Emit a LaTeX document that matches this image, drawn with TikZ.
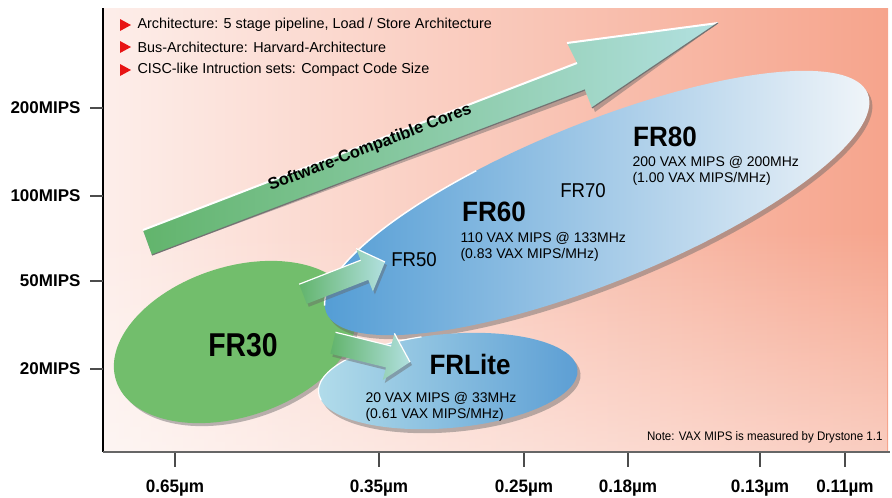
\documentclass[tikz,border=0pt]{standalone}
\usepackage{fontspec}
\setmainfont{Liberation Sans}
\newfontfamily\condf[FakeStretch=0.86]{Liberation Sans}
\newfontfamily\narf[FakeStretch=0.93]{Liberation Sans}
\newfontfamily\axf[FakeStretch=0.95]{Liberation Sans}
\usetikzlibrary{fadings}
\definecolor{bgL}{RGB}{253,238,234}
\definecolor{bgR}{RGB}{246,164,140}
\definecolor{grn}{RGB}{114,190,108}
\definecolor{blA}{RGB}{80,155,212}
\definecolor{blB}{RGB}{160,210,230}
\definecolor{blC}{RGB}{244,247,250}
\definecolor{liteL}{RGB}{178,220,234}
\definecolor{liteR}{RGB}{92,158,212}
\definecolor{arrL}{RGB}{98,180,108}
\definecolor{arrR}{RGB}{178,224,224}
\definecolor{bulred}{RGB}{232,20,20}
\begin{document}
\begin{tikzpicture}[x=1pt,y=-1pt,
  ylab/.style={anchor=east,font=\bfseries\fontsize{17}{17}\selectfont},
  xlab/.style={font=\axf\bfseries\fontsize{18}{18}\selectfont},
  tickln/.style={line width=1.6pt,black!70},
  bul/.style={anchor=west,font=\fontsize{14.4}{15}\selectfont},
  bigname/.style={font=\narf\bfseries\fontsize{28}{28}\selectfont},
  smallname/.style={font=\narf\fontsize{20}{20}\selectfont},
  spec/.style={anchor=west,align=left,font=\fontsize{14}{16}\selectfont},
  shadowsty/.style={fill=black!60,opacity=0.45}]
\useasboundingbox (0,0) rectangle (892,498);
% background
\shade[left color=bgL,right color=bgR] (103,8) rectangle (888,452);
\fill[white,path fading=north,opacity=0.45] (103,230) rectangle (888,452);
% axes
\draw[black,line width=1.2pt] (103,8) -- (103,452);
\draw[black!60,line width=2.6pt] (103,452) -- (890,452);
% y ticks
\foreach \yy/\lab in {108/200MIPS,196/100MIPS,281/50MIPS,369/20MIPS}{
  \draw[tickln] (90,\yy) -- (103,\yy);
  \node[ylab] at (84,\yy) {\lab};
}
% x ticks
\foreach \xx/\lab in {175/0.65,379/0.35,524/0.25,628/0.18,760/0.13,845/0.11}{
  \draw[tickln] (\xx,453) -- (\xx,467);
  \node[xlab] at (\xx,488) {\lab µm};
}
% bullets
\foreach \yy/\txt in {25/{Architecture: 5 stage pipeline, Load / Store Architecture},47/{Bus-Architecture: Harvard-Architecture},70/{CISC-like Intruction sets: Compact Code Size}}{
  \fill[bulred] (120,\yy-6) -- (131,\yy) -- (120,\yy+6) -- cycle;
  \node[bul] at (134,\yy) {\txt};
}
% big arrow
\coordinate (ta) at (143,230);
\coordinate (tb) at (152,255);
\coordinate (tip) at (718,23);
\fill[shadowsty,xshift=3pt,yshift=-4pt] (ta) -- (577,63) -- (567,43) -- (tip) -- (592,108) -- (585,90) -- (tb) -- cycle;
\shade[left color=arrL,right color=arrR] (ta) -- (577,63) -- (567,43) -- (tip) -- (592,108) -- (585,90) -- (tb) -- cycle;
\draw[white,line width=2pt] (ta) -- (577,63) (567,43) -- (tip);
\draw[black!55,line width=1.2pt] (tb) -- (585,90) (592,108) -- (tip);
\node[rotate=21,inner sep=0pt,font=\bfseries\fontsize{16.5}{16.5}\selectfont] (swc) at (370,148) {Software-Compatible Cores};
% FR30 ellipse
\fill[shadowsty,rotate around={18:(238,345)}] (238,345) ellipse [x radius=125pt,y radius=75pt];
\fill[grn,rotate around={18:(235,342)}] (235,342) ellipse [x radius=125pt,y radius=75pt];
% FR60 ellipse
\fill[shadowsty,rotate around={22:(600,207)}] (600,207) ellipse [x radius=292pt,y radius=80pt];
\shade[left color=blA,middle color=blB,right color=blC,rotate around={22:(597,203)}] (597,203) ellipse [x radius=292pt,y radius=80pt];
\draw[white,line width=1.5pt,rotate around={22:(597,203)}] (597,203) ++(110:292pt and 80pt) arc [start angle=110,end angle=175,x radius=292pt,y radius=80pt];
% arrow FR30 -> FR50
\fill[shadowsty,xshift=2pt,yshift=-3pt] (299.2,284.2) -- (360.7,260.2) -- (356.1,248.6) -- (385,262) -- (372.9,291.4) -- (368.3,279.8) -- (306.8,303.8) -- cycle;
\shade[left color=arrL,right color=arrR] (299.2,284.2) -- (360.7,260.2) -- (356.1,248.6) -- (385,262) -- (372.9,291.4) -- (368.3,279.8) -- (306.8,303.8) -- cycle;
\draw[white,line width=1.2pt] (299.2,284.2) -- (360.7,260.2) (356.1,248.6) -- (385,262);
% FRLite ellipse
\fill[shadowsty,rotate around={5:(451,385)}] (451,385) ellipse [x radius=130pt,y radius=47pt];
\shade[left color=liteL,right color=liteR,rotate around={5:(448,381)}] (448,381) ellipse [x radius=130pt,y radius=47pt];
\draw[white,line width=1.2pt,rotate around={5:(448,381)}] (448,381) ++(100:130pt and 47pt) arc [start angle=100,end angle=190,x radius=130pt,y radius=47pt];
% arrow FR30 -> FRLite
\fill[shadowsty,xshift=2pt,yshift=-3pt] (335.6,332.3) -- (391.2,346.0) -- (394.4,333.4) -- (410,362) -- (382.8,380) -- (386,367.4) -- (330.4,353.7) -- cycle;
\shade[left color=arrL,right color=arrR] (335.6,332.3) -- (391.2,346.0) -- (394.4,333.4) -- (410,362) -- (382.8,380) -- (386,367.4) -- (330.4,353.7) -- cycle;
\draw[white,line width=1.2pt] (335.6,332.3) -- (391.2,346.0) (394.4,333.4) -- (410,362);
% labels
\node[font=\condf\bfseries\fontsize{33}{33}\selectfont] (fr30) at (243,345) {FR30};
\node[smallname] (fr50) at (414,260) {FR50};
\node[smallname] (fr70) at (583,191) {FR70};
\node[bigname] (fr60) at (494,212) {FR60};
\node[spec] (fr60s) at (457,247) {110 VAX MIPS @ 133MHz\\(0.83 VAX MIPS/MHz)};
\node[bigname] (fr80) at (665,137) {FR80};
\node[spec] (fr80s) at (629,171) {200 VAX MIPS @ 200MHz\\(1.00 VAX MIPS/MHz)};
\node[bigname] (frl) at (470,364) {FRLite};
\node[spec] (frls) at (362,407) {20 VAX MIPS @ 33MHz\\(0.61 VAX MIPS/MHz)};
\node[anchor=east,font=\narf\fontsize{12.4}{12.4}\selectfont] (note) at (886,437) {Note: VAX MIPS is measured by Drystone 1.1};
\end{tikzpicture}
\end{document}
